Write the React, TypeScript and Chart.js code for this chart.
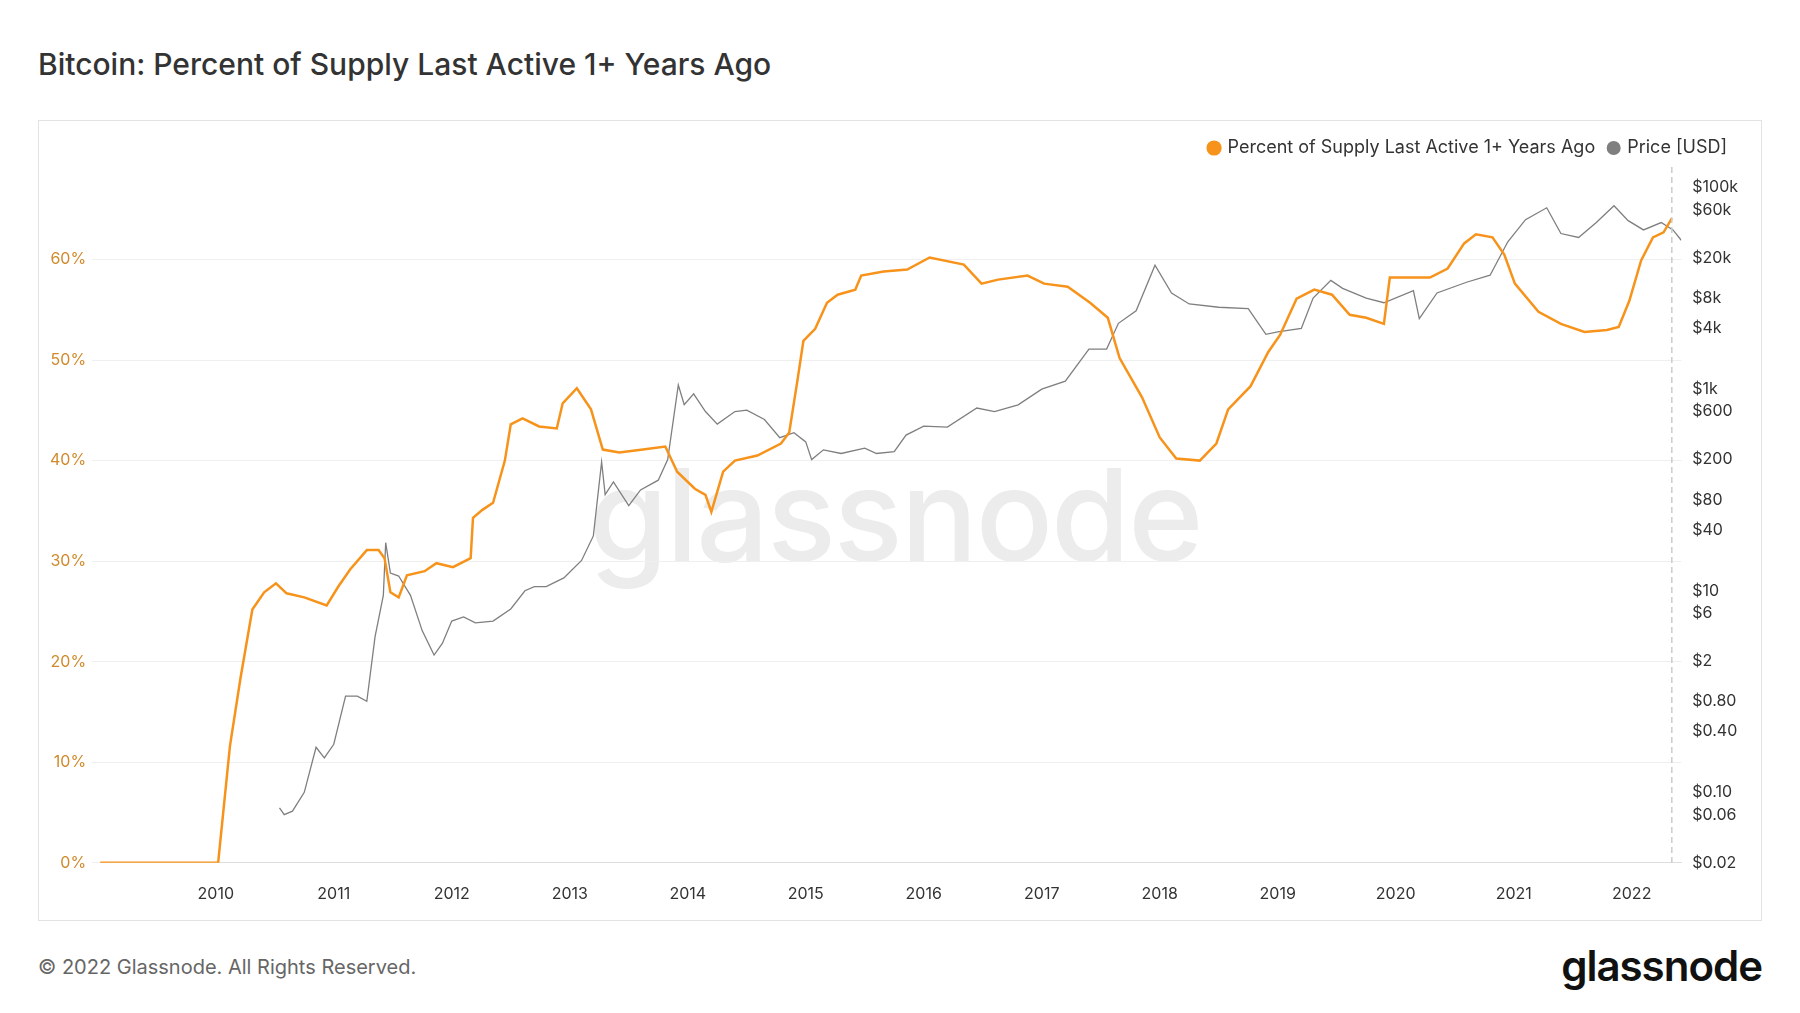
import React, { useEffect, useRef } from "react";
import { Chart, registerables } from "chart.js";
Chart.register(...registerables);

const pctYears = [2009.02, 2010.0, 2010.02, 2010.12, 2010.21, 2010.31, 2010.41, 2010.51, 2010.6, 2010.75, 2010.94, 2011.04, 2011.14, 2011.28, 2011.38, 2011.43, 2011.48, 2011.55, 2011.62, 2011.77, 2011.87, 2012.01, 2012.16, 2012.18, 2012.26, 2012.35, 2012.45, 2012.5, 2012.6, 2012.74, 2012.89, 2012.94, 2013.06, 2013.18, 2013.28, 2013.42, 2013.62, 2013.81, 2013.91, 2014.06, 2014.15, 2014.2, 2014.3, 2014.4, 2014.59, 2014.79, 2014.86, 2014.93, 2014.98, 2015.08, 2015.18, 2015.27, 2015.42, 2015.47, 2015.66, 2015.86, 2016.05, 2016.34, 2016.49, 2016.63, 2016.88, 2017.02, 2017.22, 2017.41, 2017.56, 2017.66, 2017.85, 2018.0, 2018.14, 2018.34, 2018.48, 2018.58, 2018.77, 2018.92, 2019.02, 2019.16, 2019.31, 2019.46, 2019.61, 2019.75, 2019.9, 2019.95, 2020.1, 2020.29, 2020.44, 2020.58, 2020.68, 2020.82, 2020.92, 2021.01, 2021.21, 2021.4, 2021.6, 2021.79, 2021.89, 2021.98, 2022.08, 2022.18, 2022.27, 2022.34];
const pctValues = [0, 0, 0, 11.6, 18.4, 25.2, 26.9, 27.8, 26.8, 26.4, 25.6, 27.5, 29.2, 31.1, 31.1, 30.3, 26.9, 26.4, 28.6, 29, 29.8, 29.4, 30.3, 34.3, 35.1, 35.8, 40, 43.6, 44.2, 43.4, 43.2, 45.7, 47.2, 45.1, 41.1, 40.8, 41.1, 41.4, 38.9, 37.2, 36.6, 34.9, 38.9, 40, 40.5, 41.7, 42.8, 48, 51.9, 53.1, 55.7, 56.5, 57, 58.4, 58.8, 59, 60.2, 59.5, 57.6, 58, 58.4, 57.6, 57.3, 55.7, 54.2, 50.2, 46.3, 42.3, 40.2, 40, 41.7, 45.1, 47.4, 50.8, 52.5, 56.1, 57, 56.5, 54.5, 54.2, 53.6, 58.2, 58.2, 58.2, 59.1, 61.6, 62.5, 62.2, 60.5, 57.6, 54.8, 53.6, 52.8, 53, 53.3, 55.9, 59.9, 62.2, 62.7, 64.1];

const priceYears = [2010.54, 2010.58, 2010.65, 2010.75, 2010.85, 2010.92, 2011.0, 2011.1, 2011.2, 2011.28, 2011.35, 2011.42, 2011.44, 2011.48, 2011.55, 2011.65, 2011.75, 2011.85, 2011.92, 2012.0, 2012.1, 2012.2, 2012.35, 2012.5, 2012.62, 2012.7, 2012.8, 2012.95, 2013.1, 2013.2, 2013.27, 2013.3, 2013.37, 2013.5, 2013.6, 2013.75, 2013.83, 2013.92, 2013.97, 2014.05, 2014.15, 2014.25, 2014.4, 2014.5, 2014.65, 2014.78, 2014.9, 2015.0, 2015.05, 2015.15, 2015.3, 2015.5, 2015.6, 2015.75, 2015.85, 2016.0, 2016.2, 2016.45, 2016.6, 2016.8, 2017.0, 2017.2, 2017.4, 2017.55, 2017.65, 2017.8, 2017.96, 2018.1, 2018.25, 2018.5, 2018.75, 2018.9, 2019.0, 2019.2, 2019.3, 2019.45, 2019.55, 2019.75, 2019.9, 2020.15, 2020.2, 2020.35, 2020.6, 2020.8, 2020.95, 2021.1, 2021.28, 2021.4, 2021.55, 2021.7, 2021.85, 2021.97, 2022.1, 2022.25, 2022.35, 2022.42];
const priceValues = [0.07, 0.06, 0.065, 0.1, 0.28, 0.22, 0.3, 0.9, 0.9, 0.8, 3.5, 9, 30, 15, 14, 9, 4, 2.3, 3, 5, 5.5, 4.8, 5, 6.6, 10, 11, 11, 13.4, 20, 35, 190, 90, 120, 70, 100, 125, 200, 1100, 700, 900, 600, 450, 600, 620, 500, 330, 370, 300, 200, 250, 230, 260, 230, 240, 350, 430, 420, 650, 600, 700, 1000, 1200, 2500, 2500, 4500, 6000, 17000, 9000, 7000, 6500, 6300, 3500, 3700, 4000, 8000, 12000, 10000, 8000, 7200, 9500, 5000, 9000, 11500, 13500, 29000, 48000, 63000, 35000, 32000, 45000, 66000, 47000, 38000, 45000, 38000, 30000];

const yearTicks = [2010, 2011, 2012, 2013, 2014, 2015, 2016, 2017, 2018, 2019, 2020, 2021, 2022];
const priceTicks = [100000, 60000, 20000, 8000, 4000, 1000, 600, 200, 80, 40, 10, 6, 2, 0.8, 0.4, 0.1, 0.06, 0.02];
const priceTickLabels = ["$100k", "$60k", "$20k", "$8k", "$4k", "$1k", "$600", "$200", "$80", "$40", "$10", "$6", "$2", "$0.80", "$0.40", "$0.10", "$0.06", "$0.02"];
const nowMarker = 2022.34;

const FONT = "Inter, 'Noto Sans', sans-serif";

export default function App() {
  const ref = useRef<HTMLCanvasElement>(null);
  useEffect(() => {
    document.body.style.margin = "0";
    const dashPlugin = {
      id: "nowLine",
      afterDatasetsDraw(chart: any) {
        const x = chart.scales.x.getPixelForValue(nowMarker);
        const { top, bottom } = chart.chartArea;
        const ctx = chart.ctx;
        ctx.save();
        ctx.strokeStyle = "#cccccc";
        ctx.lineWidth = 1.5;
        ctx.setLineDash([6, 4]);
        ctx.beginPath();
        ctx.moveTo(x, top);
        ctx.lineTo(x, bottom);
        ctx.stroke();
        ctx.restore();
      },
    };
    const chart = new Chart(ref.current!, {
      type: "line",
      data: {
        datasets: [
          {
            label: "Percent of Supply Last Active 1+ Years Ago",
            data: pctYears.map((x, i) => ({ x, y: pctValues[i] })),
            borderColor: "#f7931a",
            backgroundColor: "#f7931a",
            borderWidth: 2.5,
            pointRadius: 0,
            yAxisID: "y",
            order: 1,
          },
          {
            label: "Price [USD]",
            data: priceYears.map((x, i) => ({ x, y: priceValues[i] })),
            borderColor: "#7f7f7f",
            backgroundColor: "#7f7f7f",
            borderWidth: 1.3,
            pointRadius: 0,
            yAxisID: "y1",
            order: 2,
          },
        ],
      },
      options: {
        animation: false,
        responsive: true,
        maintainAspectRatio: false,
        layout: { padding: { left: 5, right: 20, top: 0, bottom: 2 } },
        plugins: {
          legend: {
            position: "top",
            align: "end",
            labels: {
              usePointStyle: true,
              pointStyle: "circle",
              boxWidth: 9,
              boxHeight: 9,
              color: "#333",
              font: { family: FONT, size: 18 },
              padding: 14,
            },
          },
          tooltip: { enabled: false },
        },
        scales: {
          x: {
            type: "linear",
            min: 2009.02,
            max: 2022.42,
            grid: { display: false },
            border: { color: "#dddddd" },
            afterBuildTicks: (s: any) => { s.ticks = yearTicks.map((v) => ({ value: v })); },
            ticks: { color: "#333", font: { family: FONT, size: 16 }, maxRotation: 0, padding: 14, callback: (v: any) => String(v) },
          },
          y: {
            position: "left",
            min: 0,
            max: 69.2,
            grid: { color: "#efefef" },
            border: { display: false },
            afterBuildTicks: (s: any) => { s.ticks = [0, 10, 20, 30, 40, 50, 60].map((v) => ({ value: v })); },
            ticks: { color: "#d08a2c", font: { family: FONT, size: 16 }, callback: (v: any) => v + "%", padding: 6 },
          },
          y1: {
            type: "logarithmic",
            position: "right",
            min: 0.02,
            max: 160000,
            grid: { display: false },
            border: { display: false },
            afterBuildTicks: (s: any) => { s.ticks = priceTicks.map((v) => ({ value: v })); },
            ticks: {
              color: "#333",
              font: { family: FONT, size: 16 },
              autoSkip: false,
              callback: (v: any) => { const i = priceTicks.indexOf(v); return i >= 0 ? priceTickLabels[i] : ""; },
            },
          },
        },
      },
      plugins: [dashPlugin],
    });
    return () => chart.destroy();
  }, []);

  return (
    <div style={{ position: "relative", width: 1800, height: 1013, background: "#fff", fontFamily: FONT, overflow: "hidden" }}>
      <div style={{ position: "absolute", left: 38, top: 46, fontSize: 30, color: "#333", fontWeight: 500 }}>
        Bitcoin: Percent of Supply Last Active 1+ Years Ago
      </div>
      <div style={{ position: "absolute", left: 38, top: 120, width: 1724, height: 801, border: "1px solid #e3e3e3", boxSizing: "border-box" }}>
        <div style={{ position: "absolute", left: 0, right: 0, top: 330, textAlign: "center", fontSize: 128, fontWeight: 500, color: "#ececec", letterSpacing: -2, lineHeight: 1, marginLeft: -10 }}>
          glassnode
        </div>
        <div style={{ position: "absolute", inset: 0, paddingTop: 4, boxSizing: "border-box" }}>
          <canvas ref={ref} />
        </div>
      </div>
      <div style={{ position: "absolute", left: 38, top: 955, fontSize: 20, color: "#666" }}>
        © 2022 Glassnode. All Rights Reserved.
      </div>
      <div style={{ position: "absolute", right: 38, top: 940, fontSize: 42, fontWeight: 600, color: "#111", letterSpacing: -1 }}>
        glassnode
      </div>
    </div>
  );
}
